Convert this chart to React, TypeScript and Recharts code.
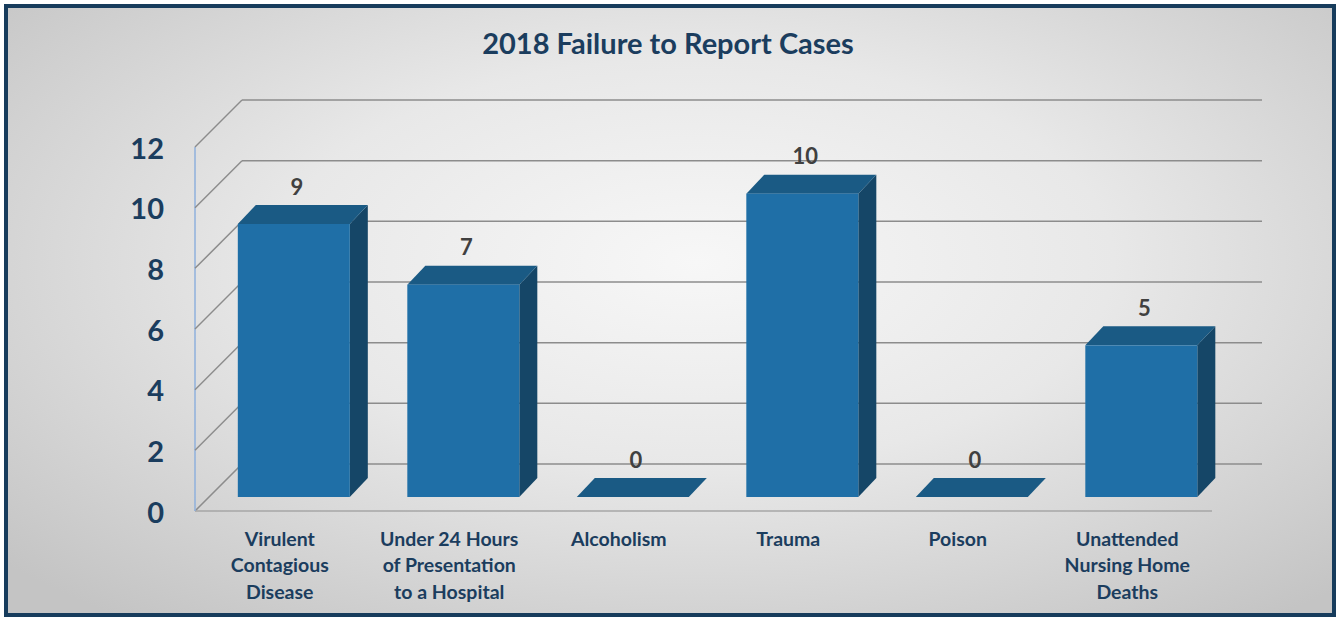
import React from 'react';
import { Bar, BarChart, CartesianGrid, LabelList, XAxis, YAxis } from 'recharts';

const categories = [
  'Virulent\nContagious\nDisease',
  'Under 24 Hours\nof Presentation\nto a Hospital',
  'Alcoholism',
  'Trauma',
  'Poison',
  'Unattended\nNursing Home\nDeaths',
];
const cases = [9, 7, 0, 10, 0, 5];
const yTicks = [0, 2, 4, 6, 8, 10, 12];

const data = categories.map((name, i) => ({ name, cases: cases[i] }));

// fake 3D: bars sit 14px "behind" the front plane, back wall is 33px further back
const FRONT = 14;
const BACK = 33;
const BAR_DX = 18;
const BAR_DY = 19;

const NAVY = '#1b3d5e';
const GRID = '#8c8c8c';
const FONT = 'Lato, "Open Sans", sans-serif';

function Bar3D(props: any) {
  const { x, y, width, height } = props;
  if (x == null || y == null) return null;
  const h = Math.max(0, height || 0);
  const top = `${x},${y} ${x + BAR_DX},${y - BAR_DY} ${x + width + BAR_DX},${y - BAR_DY} ${x + width},${y}`;
  const side = `${x + width},${y} ${x + width + BAR_DX},${y - BAR_DY} ${x + width + BAR_DX},${y + h - BAR_DY} ${x + width},${y + h}`;
  return (
    <g>
      {h > 0 ? <polygon points={side} fill="#154667" /> : null}
      <polygon points={top} fill="#1a5a84" />
      {h > 0 ? <rect x={x} y={y} width={width} height={h} fill="#1f6fa7" /> : null}
    </g>
  );
}

function GridLine(p: any) {
  const { x1, x2, y1, index } = p;
  const pts: number[] = p.horizontalPoints || [];
  const bottom = p.y != null && p.height != null ? p.y + p.height : Math.max(...pts);
  const topY = p.y != null ? p.y : Math.min(...pts);
  return (
    <g>
      <line x1={x1 + BACK} y1={y1 - BACK} x2={x2 + BACK + 3} y2={y1 - BACK} stroke={GRID} strokeWidth={1.5} />
      <line x1={x1 - FRONT} y1={y1 + FRONT} x2={x1 + BACK} y2={y1 - BACK} stroke={GRID} strokeWidth={1.5} />
      {index === 0 ? (
        <g>
          <line x1={x1 - FRONT} y1={bottom + FRONT} x2={x2 - FRONT} y2={bottom + FRONT} stroke="#a6a6a6" strokeWidth={1.5} />
          <line x1={x1 - FRONT} y1={topY + FRONT} x2={x1 - FRONT} y2={bottom + FRONT} stroke="#8fb0dc" strokeWidth={1.5} />
        </g>
      ) : null}
    </g>
  );
}

function YTick(props: any) {
  const { x, y, payload } = props;
  return (
    <text
      x={x - 37}
      y={y + FRONT}
      textAnchor="end"
      dominantBaseline="central"
      fill={NAVY}
      fontFamily={FONT}
      fontWeight={700}
      fontSize={29}
    >
      {payload.value}
    </text>
  );
}

function XTick(props: any) {
  const { x, y, payload } = props;
  const lines = String(payload.value).split('\n');
  return (
    <text
      x={x - FRONT}
      y={y + 33}
      textAnchor="middle"
      fill={NAVY}
      fontFamily={FONT}
      fontWeight={700}
      fontSize={19.5}
    >
      {lines.map((line, i) => (
        <tspan key={i} x={x - FRONT} y={y + 33 + i * 26.5} dominantBaseline="central">
          {line}
        </tspan>
      ))}
    </text>
  );
}

function ValueLabel(props: any) {
  const { x, y, width, value } = props;
  return (
    <text
      x={x + width / 2 + 3}
      y={y - 38}
      textAnchor="middle"
      dominantBaseline="central"
      fill="#404040"
      fontFamily={FONT}
      fontWeight={700}
      fontSize={22}
    >
      {value}
    </text>
  );
}

export default function App() {
  return (
    <div style={{ position: 'absolute', left: 0, top: 0, width: 1336, height: 617, background: '#fff' }}>
      <div
        style={{
          position: 'absolute',
          left: 4,
          top: 4,
          width: 1332,
          height: 613,
          boxSizing: 'border-box',
          border: '4px solid #173c5c',
          background: 'radial-gradient(ellipse 70% 75% at 52% 42%, #f7f7f7 0%, #e8e8e8 45%, #c4c4c4 100%)',
        }}
      />
      <div
        style={{
          position: 'absolute',
          left: 0,
          top: 25,
          width: 1336,
          textAlign: 'center',
          fontFamily: FONT,
          fontWeight: 700,
          fontSize: 29,
          color: NAVY,
        }}
      >
        2018 Failure to Report Cases
      </div>
      <div style={{ position: 'absolute', left: 0, top: 0 }}>
        <BarChart
          width={1336}
          height={617}
          data={data}
          margin={{ top: 133, right: 110, bottom: 20, left: 149 }}
          barCategoryGap="17%"
        >
          <CartesianGrid vertical={false} horizontal={(p: any) => <GridLine {...p} />} />
          <XAxis dataKey="name" height={100} axisLine={false} tickLine={false} tick={<XTick />} interval={0} />
          <YAxis
            width={60}
            domain={[0, 12]}
            ticks={yTicks}
            axisLine={false}
            tickLine={false}
            tick={<YTick />}
          />
          <Bar dataKey="cases" shape={<Bar3D />} isAnimationActive={false}>
            <LabelList dataKey="cases" content={<ValueLabel />} />
          </Bar>
        </BarChart>
      </div>
    </div>
  );
}
